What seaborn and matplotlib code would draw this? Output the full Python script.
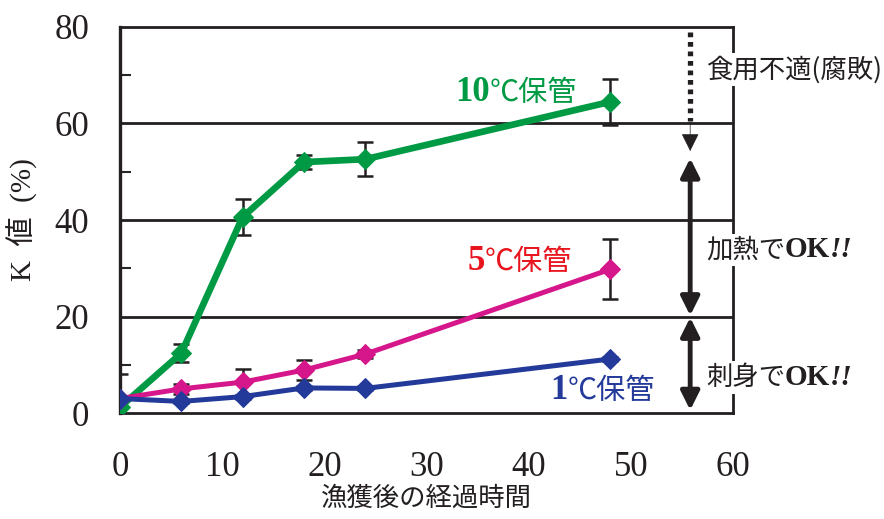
import numpy as np
import pandas as pd
import seaborn as sns
import matplotlib
matplotlib.use("Agg")
import matplotlib.pyplot as plt
from matplotlib.offsetbox import TextArea, HPacker, AnnotationBbox

# Storage time after catch (hours) and K value (%) for three storage temperatures
hours = [0, 6, 12, 18, 24, 48]
k_10c = [1.2, 12.4, 40.6, 52.0, 52.6, 64.5]
k_10c_err = [0.0, 1.8, 3.7, 1.5, 3.5, 4.8]
k_5c = [3.0, 5.0, 6.4, 8.9, 12.2, 29.8]
k_5c_err = [5.0, 1.0, 2.7, 2.0, 0.8, 6.2]
k_1c = [3.0, 2.4, 3.4, 5.2, 5.1, 11.2]
k_1c_err = [0.4, 0.4, 0.4, 0.4, 0.4, 0.4]

series_names = ["10", "5", "1"]
series_values = [k_10c, k_5c, k_1c]
series_errors = [k_10c_err, k_5c_err, k_1c_err]
line_colors = ["#009a44", "#d6168b", "#233a9a"]
label_colors = ["#009a44", "#e8141e", "#233a9a"]

x_ticks = [0, 10, 20, 30, 40, 50, 60]
y_ticks = [0, 20, 40, 60, 80]
zone_labels = ["食用不適(腐敗)", "加熱で", "刺身で"]

JP = "Noto Sans CJK JP"
SERIF = "Liberation Serif"

sns.set_theme(style="white")
plt.rcParams["font.family"] = [SERIF, JP]

df = pd.DataFrame({
    "hours": hours * 3,
    "k": sum(series_values, []),
    "err": sum(series_errors, []),
    "series": sum([[n] * len(hours) for n in series_names], []),
})

fig = plt.figure(figsize=(8.84, 5.19), dpi=100)
ax = fig.add_axes([0.1357, 0.2042, 0.8293 - 0.1357, 0.948 - 0.2042])

# error bars beneath the lines
for vals, errs in zip(series_values, series_errors):
    ax.errorbar(hours, vals, yerr=errs, fmt="none", ecolor="#231f20",
                elinewidth=1.8, capsize=6, capthick=1.8, zorder=2)

widths = {"10": 4.8, "5": 3.6, "1": 3.6}
for name, color in zip(series_names, line_colors):
    sub = df[df["series"] == name]
    sns.lineplot(data=sub, x="hours", y="k", ax=ax, color=color,
                 linewidth=widths[name], marker="D", markersize=10,
                 markeredgecolor=color, legend=False, zorder=3)

ax.set_xlim(0, 60)
ax.set_ylim(0, 80)
ax.set_xticks(x_ticks)
ax.set_yticks(y_ticks)
ax.set_yticks([10, 30, 50, 70], minor=True)
ax.tick_params(axis="both", which="major", labelsize=25, colors="#231f20")
ax.tick_params(axis="x", which="major", direction="in", length=8, width=1.5, pad=27)
ax.tick_params(axis="y", which="major", length=0, pad=22)
ax.tick_params(axis="y", which="minor", direction="in", length=8, width=1.5, left=True)
for lbl in ax.get_xticklabels() + ax.get_yticklabels():
    lbl.set_family(SERIF)

for side in ["left", "bottom", "right", "top"]:
    ax.spines[side].set_visible(True)
    ax.spines[side].set_color("#231f20")
    ax.spines[side].set_linewidth(2.0)
ax.spines["left"].set_linewidth(2.4)
for gy in [20, 40, 60]:
    ax.axhline(gy, color="#231f20", lw=2.0, zorder=1)

ax.set_xlabel("漁獲後の経過時間", family=JP, fontsize=19, labelpad=1, color="#231f20")
ax.set_ylabel("K  値  (%)", fontsize=21, labelpad=12, color="#231f20")

# series labels: bold serif number + sans "℃保管"
label_pos = [(32.8, 63.0), (34.0, 28.0), (42.1, 1.2)]
for name, col, (lx, ly) in zip(series_names, label_colors, label_pos):
    box = HPacker(children=[
        TextArea(name, textprops=dict(family=SERIF, fontweight="bold", fontsize=25, color=col)),
        TextArea("℃保管", textprops=dict(family=JP, fontsize=21, color=col)),
    ], align="baseline", pad=0, sep=0)
    ab = AnnotationBbox(box, (lx, ly), xycoords="data", box_alignment=(0, 0),
                        frameon=False, zorder=6)
    ax.add_artist(ab)

# quality zones on the right-hand side
ax_x = 55.8
ax.plot([ax_x, ax_x], [79.0, 60.5], color="#231f20", lw=3.8, ls=(0, (0.9, 0.9)),
        clip_on=False, zorder=4, solid_capstyle="butt", dash_capstyle="butt")
ax.annotate("", xy=(ax_x, 54.3), xytext=(ax_x, 60.3),
            arrowprops=dict(arrowstyle="-|>", color="#231f20", lw=0.5, mutation_scale=28,
                            shrinkA=0, shrinkB=0), annotation_clip=False, zorder=4)
ax.annotate("", xy=(ax_x, 52.8), xytext=(ax_x, 20.2),
            arrowprops=dict(arrowstyle="<|-|>", color="#231f20", lw=3.5, mutation_scale=28,
                            shrinkA=0, shrinkB=0), annotation_clip=False, zorder=4)
ax.annotate("", xy=(ax_x, 19.8), xytext=(ax_x, 0.6),
            arrowprops=dict(arrowstyle="<|-|>", color="#231f20", lw=3.5, mutation_scale=28,
                            shrinkA=0, shrinkB=0), annotation_clip=False, zorder=4)


def zone_box(parts, y):
    children = [TextArea(text, textprops=props) for text, props in parts]
    box = HPacker(children=children, align="baseline", pad=1, sep=0)
    ab = AnnotationBbox(box, (57.2, y), xycoords="data", box_alignment=(0, 0.5),
                        frameon=True, bboxprops=dict(facecolor="white", edgecolor="none"),
                        pad=0.1, annotation_clip=False, zorder=6)
    ax.add_artist(ab)


jp_props = dict(family=JP, fontsize=19, color="#231f20")
ok_props = dict(family=SERIF, fontsize=21, fontweight="bold", color="#231f20")
ex_props = dict(family=SERIF, fontsize=21, fontweight="bold", style="italic", color="#231f20")
zone_box([(zone_labels[0], jp_props)], 71.2)
zone_box([(zone_labels[1], jp_props), ("OK", ok_props), ("!!", ex_props)], 33.8)
zone_box([(zone_labels[2], jp_props), ("OK", ok_props), ("!!", ex_props)], 7.4)

fig.savefig("out.png", dpi=100, facecolor="white")
